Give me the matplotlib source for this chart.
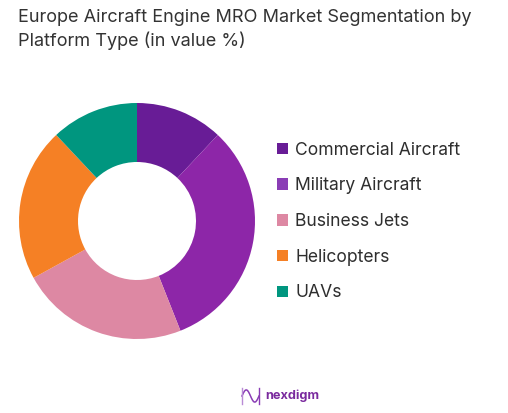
import numpy as np
import matplotlib
matplotlib.use("Agg")
import matplotlib.pyplot as plt
from matplotlib.patches import Patch

categories = ["Commercial Aircraft", "Military Aircraft", "Business Jets", "Helicopters", "UAVs"]
values = [12, 32, 23, 21, 12]
colors = ["#681C96", "#8D26A8", "#DD88A3", "#F58025", "#00967F"]
legend_colors = ["#681C96", "#8A3DB5", "#DD88A3", "#F58025", "#00967F"]
title_lines = ["Europe Aircraft Engine MRO Market Segmentation by", "Platform Type (in value %)"]
brand = "nexdigm"

W, H = 508, 413
fig = plt.figure(figsize=(W / 100, H / 100), dpi=100, facecolor="white")
plt.rcParams["font.family"] = ["Inter", "DejaVu Sans"]

# Donut: centre (137, 221), radius 118 px
R = 118
ax = fig.add_axes([(137 - R) / W, 1 - (221 + R) / H, 2 * R / W, 2 * R / H])
wedges, _ = ax.pie(values, colors=colors, startangle=90, counterclock=False, radius=1,
                   wedgeprops=dict(width=0.5, linewidth=0))
ax.set_xlim(-1, 1)
ax.set_ylim(-1, 1)
ax.set_aspect("equal")

# Title
for line, y in zip(title_lines, [18, 41]):
    fig.text(18 / W, 1 - y / H, line, fontsize=13.05, color="#333333", va="center", ha="left")

# Legend
handles = [Patch(facecolor=c, edgecolor="none") for c in legend_colors]
leg = fig.legend(handles, categories, loc="center left", bbox_to_anchor=(277 / W, 1 - 221.5 / H),
                 frameon=False, fontsize=12.6, labelcolor="#2e2e2e",
                 handlelength=0.63, handleheight=0.63, handletextpad=0.42,
                 labelspacing=1.07, borderpad=0, borderaxespad=0)

# Logo
logo = fig.add_axes([0, 0, 1, 1], facecolor="none")
logo.set_xlim(0, W)
logo.set_ylim(H, 0)
logo.axis("off")
t = np.linspace(0, 1, 60)
x = 242 + 17 * t
logo.plot(x, 396 - 8 * np.sin(2 * np.pi * t) * 0.8, color="#D5B8E6", lw=1.0)
logo.plot(x, 396 - 6 * np.sin(2 * np.pi * t), color="#8A3DB5", lw=1.0)
logo.plot([242, 242], [388, 404], color="#B98BD6", lw=1.0)
logo.plot([259, 259], [388, 404], color="#8A3DB5", lw=1.0)
logo.text(265, 396, brand, fontsize=9.2, color="#7A2A9E", va="center", ha="left", fontweight="bold")

fig.savefig("out.png", dpi=100)
